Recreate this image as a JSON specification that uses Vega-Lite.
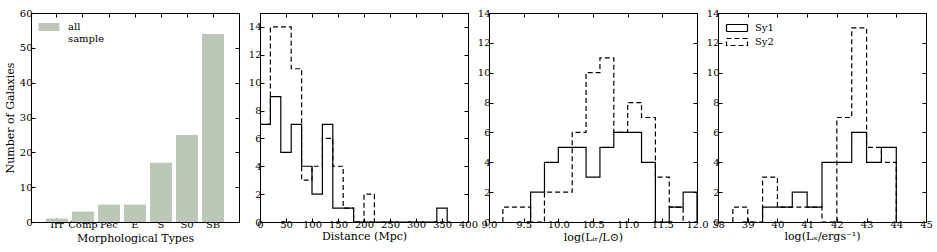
{
  "$schema": "https://vega.github.io/schema/vega-lite/v6.json",
  "padding": {"left": 3, "top": 7, "right": 4, "bottom": 4},
  "autosize": {"type": "pad"},
  "spacing": 21,
  "bounds": "flush",
  "datasets": {
    "bars": [
      {"t": "Irr", "n": 1, "g": "all sample"},
      {"t": "Comp", "n": 3, "g": "all sample"},
      {"t": "Pec", "n": 5, "g": "all sample"},
      {"t": "E", "n": 5, "g": "all sample"},
      {"t": "S", "n": 17, "g": "all sample"},
      {"t": "S0", "n": 25, "g": "all sample"},
      {"t": "SB", "n": 54, "g": "all sample"}
    ],
    "dist": [
      {"s": "Sy1", "i": 0, "x": 0, "n": 0},
      {"s": "Sy1", "i": 1, "x": 0, "n": 7},
      {"s": "Sy1", "i": 2, "x": 20, "n": 9},
      {"s": "Sy1", "i": 3, "x": 40, "n": 5},
      {"s": "Sy1", "i": 4, "x": 60, "n": 7},
      {"s": "Sy1", "i": 5, "x": 80, "n": 4},
      {"s": "Sy1", "i": 6, "x": 100, "n": 2},
      {"s": "Sy1", "i": 7, "x": 120, "n": 7},
      {"s": "Sy1", "i": 8, "x": 140, "n": 1},
      {"s": "Sy1", "i": 9, "x": 160, "n": 1},
      {"s": "Sy1", "i": 10, "x": 180, "n": 0},
      {"s": "Sy1", "i": 11, "x": 340, "n": 1},
      {"s": "Sy1", "i": 12, "x": 360, "n": 0},
      {"s": "Sy2", "i": 0, "x": 0, "n": 0},
      {"s": "Sy2", "i": 1, "x": 0, "n": 7},
      {"s": "Sy2", "i": 2, "x": 20, "n": 14},
      {"s": "Sy2", "i": 3, "x": 40, "n": 14},
      {"s": "Sy2", "i": 4, "x": 60, "n": 11},
      {"s": "Sy2", "i": 5, "x": 80, "n": 3},
      {"s": "Sy2", "i": 6, "x": 100, "n": 4},
      {"s": "Sy2", "i": 7, "x": 120, "n": 6},
      {"s": "Sy2", "i": 8, "x": 140, "n": 4},
      {"s": "Sy2", "i": 9, "x": 160, "n": 1},
      {"s": "Sy2", "i": 10, "x": 180, "n": 0},
      {"s": "Sy2", "i": 11, "x": 200, "n": 2},
      {"s": "Sy2", "i": 12, "x": 220, "n": 0}
    ],
    "ir": [
      {"s": "Sy1", "i": 0, "x": 9.6, "n": 0},
      {"s": "Sy1", "i": 1, "x": 9.6, "n": 2},
      {"s": "Sy1", "i": 2, "x": 9.8, "n": 4},
      {"s": "Sy1", "i": 3, "x": 10.0, "n": 5},
      {"s": "Sy1", "i": 4, "x": 10.2, "n": 5},
      {"s": "Sy1", "i": 5, "x": 10.4, "n": 3},
      {"s": "Sy1", "i": 6, "x": 10.6, "n": 5},
      {"s": "Sy1", "i": 7, "x": 10.8, "n": 6},
      {"s": "Sy1", "i": 8, "x": 11.0, "n": 6},
      {"s": "Sy1", "i": 9, "x": 11.2, "n": 4},
      {"s": "Sy1", "i": 10, "x": 11.4, "n": 0},
      {"s": "Sy1", "i": 11, "x": 11.6, "n": 1},
      {"s": "Sy1", "i": 12, "x": 11.8, "n": 2},
      {"s": "Sy1", "i": 13, "x": 12.0, "n": 0},
      {"s": "Sy2", "i": 0, "x": 9.2, "n": 0},
      {"s": "Sy2", "i": 1, "x": 9.2, "n": 1},
      {"s": "Sy2", "i": 2, "x": 9.4, "n": 1},
      {"s": "Sy2", "i": 3, "x": 9.6, "n": 0},
      {"s": "Sy2", "i": 4, "x": 9.8, "n": 2},
      {"s": "Sy2", "i": 5, "x": 10.0, "n": 2},
      {"s": "Sy2", "i": 6, "x": 10.2, "n": 6},
      {"s": "Sy2", "i": 7, "x": 10.4, "n": 10},
      {"s": "Sy2", "i": 8, "x": 10.6, "n": 11},
      {"s": "Sy2", "i": 9, "x": 10.8, "n": 6},
      {"s": "Sy2", "i": 10, "x": 11.0, "n": 8},
      {"s": "Sy2", "i": 11, "x": 11.2, "n": 7},
      {"s": "Sy2", "i": 12, "x": 11.4, "n": 3},
      {"s": "Sy2", "i": 13, "x": 11.6, "n": 1},
      {"s": "Sy2", "i": 14, "x": 11.8, "n": 0}
    ],
    "xr": [
      {"s": "Sy1", "i": 0, "x": 39.5, "n": 0},
      {"s": "Sy1", "i": 1, "x": 39.5, "n": 1},
      {"s": "Sy1", "i": 2, "x": 40.0, "n": 1},
      {"s": "Sy1", "i": 3, "x": 40.5, "n": 2},
      {"s": "Sy1", "i": 4, "x": 41.0, "n": 1},
      {"s": "Sy1", "i": 5, "x": 41.5, "n": 4},
      {"s": "Sy1", "i": 6, "x": 42.0, "n": 4},
      {"s": "Sy1", "i": 7, "x": 42.5, "n": 6},
      {"s": "Sy1", "i": 8, "x": 43.0, "n": 4},
      {"s": "Sy1", "i": 9, "x": 43.5, "n": 5},
      {"s": "Sy1", "i": 10, "x": 44.0, "n": 0},
      {"s": "Sy2", "i": 0, "x": 38.5, "n": 0},
      {"s": "Sy2", "i": 1, "x": 38.5, "n": 1},
      {"s": "Sy2", "i": 2, "x": 39.0, "n": 0},
      {"s": "Sy2", "i": 3, "x": 39.5, "n": 3},
      {"s": "Sy2", "i": 4, "x": 40.0, "n": 1},
      {"s": "Sy2", "i": 5, "x": 40.5, "n": 1},
      {"s": "Sy2", "i": 6, "x": 41.0, "n": 1},
      {"s": "Sy2", "i": 7, "x": 41.5, "n": 0},
      {"s": "Sy2", "i": 8, "x": 42.0, "n": 7},
      {"s": "Sy2", "i": 9, "x": 42.5, "n": 13},
      {"s": "Sy2", "i": 10, "x": 43.0, "n": 5},
      {"s": "Sy2", "i": 11, "x": 43.5, "n": 4},
      {"s": "Sy2", "i": 12, "x": 44.0, "n": 0}
    ]
  },
  "hconcat": [
    {
      "width": 208, "height": 209,
      "data": {"name": "bars"},
      "layer": [
        {
          "mark": {"type": "bar"},
          "encoding": {
            "x": {"field": "t", "type": "nominal", "sort": null,
                  "scale": {"paddingInner": 0.154, "paddingOuter": 0.577},
                  "axis": {"title": "Morphological Types", "labelAngle": 0, "titlePadding": 3}},
            "y": {"field": "n", "type": "quantitative",
                  "scale": {"domain": [0, 60], "nice": false},
                  "axis": {"values": [0, 10, 20, 30, 40, 50, 60], "title": "Number of Galaxies", "titlePadding": 4}},
            "color": {"field": "g", "type": "nominal",
                      "scale": {"range": ["#bdc7b8"]},
                      "legend": {"orient": "none", "legendX": 10, "legendY": 6, "title": null,
                                 "symbolType": "M-1.3,-0.5H1.3V0.5H-1.3Z", "symbolSize": 256,
                                 "symbolStrokeWidth": 0, "symbolOpacity": 1,
                                 "labelExpr": "['all','sample']", "labelOffset": 11, "labelFontSize": 10,
                                 "labelFont": "DejaVu Serif", "padding": 0}}
          }
        },
        {
          "mark": {"type": "point", "opacity": 0},
          "encoding": {
            "x": {"field": "t", "type": "nominal", "sort": null,
                  "axis": {"orient": "top", "labels": false, "title": null}},
            "y": {"field": "n", "type": "quantitative",
                  "axis": {"orient": "right", "labels": false, "title": null, "values": [0, 10, 20, 30, 40, 50, 60]}}
          }
        }
      ],
      "resolve": {"axis": {"x": "independent", "y": "independent"}}
    },
    {
      "width": 208, "height": 209,
      "data": {"name": "dist"},
      "layer": [
        {
          "mark": {"type": "line", "interpolate": "step-after", "color": "#000", "strokeWidth": 1.2, "clip": true},
          "encoding": {
            "x": {"field": "x", "type": "quantitative",
                  "scale": {"domain": [0, 400], "nice": false},
                  "axis": {"values": [0, 50, 100, 150, 200, 250, 300, 350, 400], "title": "Distance (Mpc)", "titlePadding": 1}},
            "y": {"field": "n", "type": "quantitative",
                  "scale": {"domain": [0, 15], "nice": false},
                  "axis": {"values": [0, 2, 4, 6, 8, 10, 12, 14], "title": null}},
            "strokeDash": {"field": "s", "type": "nominal",
                           "scale": {"domain": ["Sy1", "Sy2"], "range": [[1, 0], [5, 3]]}, "legend": null},
            "order": {"field": "i", "type": "quantitative"}
          }
        },
        {
          "mark": {"type": "point", "opacity": 0},
          "encoding": {
            "x": {"field": "x", "type": "quantitative",
                  "axis": {"orient": "top", "labels": false, "title": null, "values": [0, 50, 100, 150, 200, 250, 300, 350, 400]}},
            "y": {"field": "n", "type": "quantitative",
                  "axis": {"orient": "right", "labels": false, "title": null, "values": [0, 2, 4, 6, 8, 10, 12, 14]}}
          }
        }
      ],
      "resolve": {"axis": {"x": "independent", "y": "independent"}}
    },
    {
      "width": 208, "height": 209,
      "data": {"name": "ir"},
      "layer": [
        {
          "mark": {"type": "line", "interpolate": "step-after", "color": "#000", "strokeWidth": 1.2, "clip": true},
          "encoding": {
            "x": {"field": "x", "type": "quantitative",
                  "scale": {"domain": [9, 12], "nice": false},
                  "axis": {"values": [9, 9.5, 10, 10.5, 11, 11.5, 12], "format": ".1f", "title": "log(Lᵢᵣ/L⊙)", "titlePadding": 2}},
            "y": {"field": "n", "type": "quantitative",
                  "scale": {"domain": [0, 14], "nice": false},
                  "axis": {"values": [0, 2, 4, 6, 8, 10, 12, 14], "title": null}},
            "strokeDash": {"field": "s", "type": "nominal",
                           "scale": {"domain": ["Sy1", "Sy2"], "range": [[1, 0], [5, 3]]}, "legend": null},
            "order": {"field": "i", "type": "quantitative"}
          }
        },
        {
          "mark": {"type": "point", "opacity": 0},
          "encoding": {
            "x": {"field": "x", "type": "quantitative",
                  "axis": {"orient": "top", "labels": false, "title": null, "values": [9, 9.5, 10, 10.5, 11, 11.5, 12]}},
            "y": {"field": "n", "type": "quantitative",
                  "axis": {"orient": "right", "labels": false, "title": null, "values": [0, 2, 4, 6, 8, 10, 12, 14]}}
          }
        }
      ],
      "resolve": {"axis": {"x": "independent", "y": "independent"}}
    },
    {
      "width": 208, "height": 209,
      "data": {"name": "xr"},
      "layer": [
        {
          "mark": {"type": "line", "interpolate": "step-after", "color": "#000", "strokeWidth": 1.2, "clip": true},
          "encoding": {
            "x": {"field": "x", "type": "quantitative",
                  "scale": {"domain": [38, 45], "nice": false},
                  "axis": {"values": [38, 39, 40, 41, 42, 43, 44, 45], "title": "log(Lₓ/ergs⁻¹)", "titlePadding": 1}},
            "y": {"field": "n", "type": "quantitative",
                  "scale": {"domain": [0, 14], "nice": false},
                  "axis": {"values": [0, 2, 4, 6, 8, 10, 12, 14], "title": null}},
            "strokeDash": {"field": "s", "type": "nominal",
                           "scale": {"domain": ["Sy1", "Sy2"], "range": [[1, 0], [5, 3]]},
                           "legend": {"orient": "none", "legendX": 11, "legendY": 7, "title": null,
                                      "symbolType": "M-1.5,-0.5H1.5V0.5H-1.5Z", "symbolSize": 196,
                                      "symbolFillColor": "transparent", "symbolStrokeColor": "#000", "symbolStrokeWidth": 1.2,
                                      "labelOffset": 10, "labelFontSize": 10, "labelFont": "DejaVu Serif",
                                      "rowPadding": -3, "padding": 0}},
            "order": {"field": "i", "type": "quantitative"}
          }
        },
        {
          "mark": {"type": "point", "opacity": 0},
          "encoding": {
            "x": {"field": "x", "type": "quantitative",
                  "axis": {"orient": "top", "labels": false, "title": null, "values": [38, 39, 40, 41, 42, 43, 44, 45]}},
            "y": {"field": "n", "type": "quantitative",
                  "axis": {"orient": "right", "labels": false, "title": null, "values": [0, 2, 4, 6, 8, 10, 12, 14]}}
          }
        }
      ],
      "resolve": {"axis": {"x": "independent", "y": "independent"}}
    }
  ],
  "resolve": {"legend": {"color": "independent", "strokeDash": "independent"}},
  "config": {
    "font": "DejaVu Serif",
    "view": {"stroke": "#000", "strokeWidth": 1},
    "axis": {"grid": false, "domain": false, "tickSize": -4, "tickColor": "#000", "tickWidth": 1,
             "labelFont": "DejaVu Serif", "labelFontSize": 10, "labelColor": "#000", "labelPadding": 3,
             "labelFlush": false, "labelOverlap": false, "labelBound": false,
             "titleFont": "DejaVu Serif", "titleFontSize": 11, "titleFontWeight": "normal", "titleColor": "#000"},
    "axisX": {"labelPadding": 1},
    "legend": {"labelColor": "#000"}
  }
}
